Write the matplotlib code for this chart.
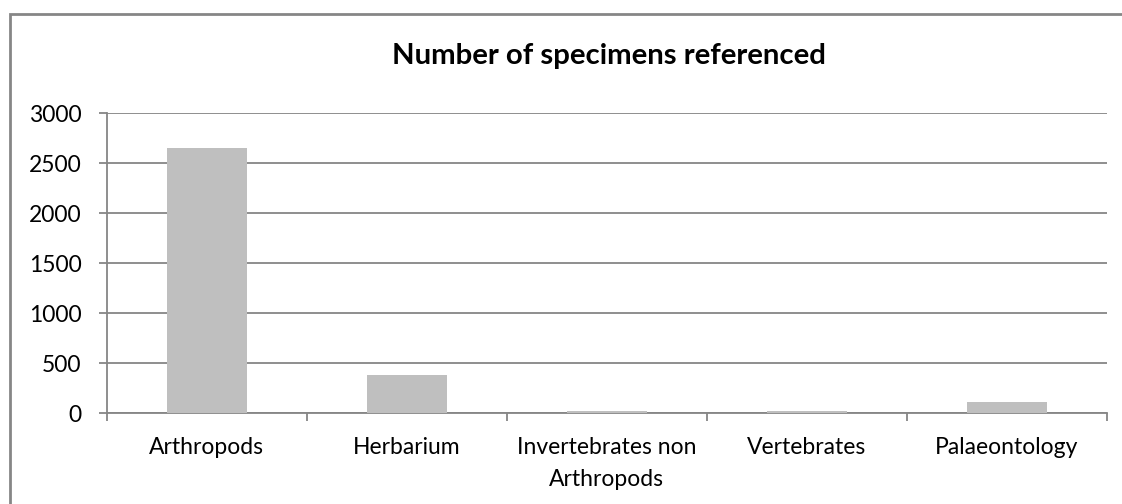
import numpy as np
import matplotlib
matplotlib.use("Agg")
import matplotlib.pyplot as plt
from matplotlib.patches import Rectangle

categories = ["Arthropods", "Herbarium", "Invertebrates non\nArthropods", "Vertebrates", "Palaeontology"]
counts = [2650, 383, 20, 20, 110]
y_ticks = [0, 500, 1000, 1500, 2000, 2500, 3000]

plt.rcParams["font.family"] = ["Lato", "DejaVu Sans"]
grey = "#868686"

fig = plt.figure(figsize=(11.22, 5.04), dpi=100)
ax = fig.add_axes([106.7 / 1122, 1 - 413.3 / 504, 1000 / 1122, 300.3 / 504])

x = np.arange(len(categories))
ax.bar(x, counts, width=0.4, color="#BFBFBF", zorder=3)

ax.set_xlim(-0.5, len(categories) - 0.5)
ax.set_ylim(0, 3000)
ax.set_yticks(y_ticks)
ax.set_yticklabels([str(v) for v in y_ticks], fontsize=16.5)
ax.yaxis.grid(True, color=grey, linewidth=1.3, zorder=0)

# category labels sit between the boundary ticks
ax.set_xticks(np.arange(-0.5, len(categories)), minor=False)
ax.set_xticklabels([])
ax.set_xticks(x, minor=True)
ax.set_xticklabels(categories, minor=True, fontsize=16.5, linespacing=1.65)
ax.tick_params(axis="x", which="minor", length=0, pad=17)
ax.tick_params(axis="x", which="major", length=6, width=1.3, color=grey)
ax.tick_params(axis="y", length=6, width=1.3, color=grey, pad=12)

for side in ["top", "right"]:
    ax.spines[side].set_visible(False)
for side in ["left", "bottom"]:
    ax.spines[side].set_color(grey)
    ax.spines[side].set_linewidth(1.3)

fig.text(609 / 1122, 1 - 56 / 504, "Number of specimens referenced", ha="center", va="center",
         fontsize=21.2, fontweight="bold")

# chart frame
fig.patches.append(Rectangle((10 / 1122, -0.1), 1.2, 1 - 14 / 504 + 0.1, transform=fig.transFigure,
                             fill=False, edgecolor=grey, linewidth=2))

fig.savefig("out.png", dpi=100)
plt.close()
